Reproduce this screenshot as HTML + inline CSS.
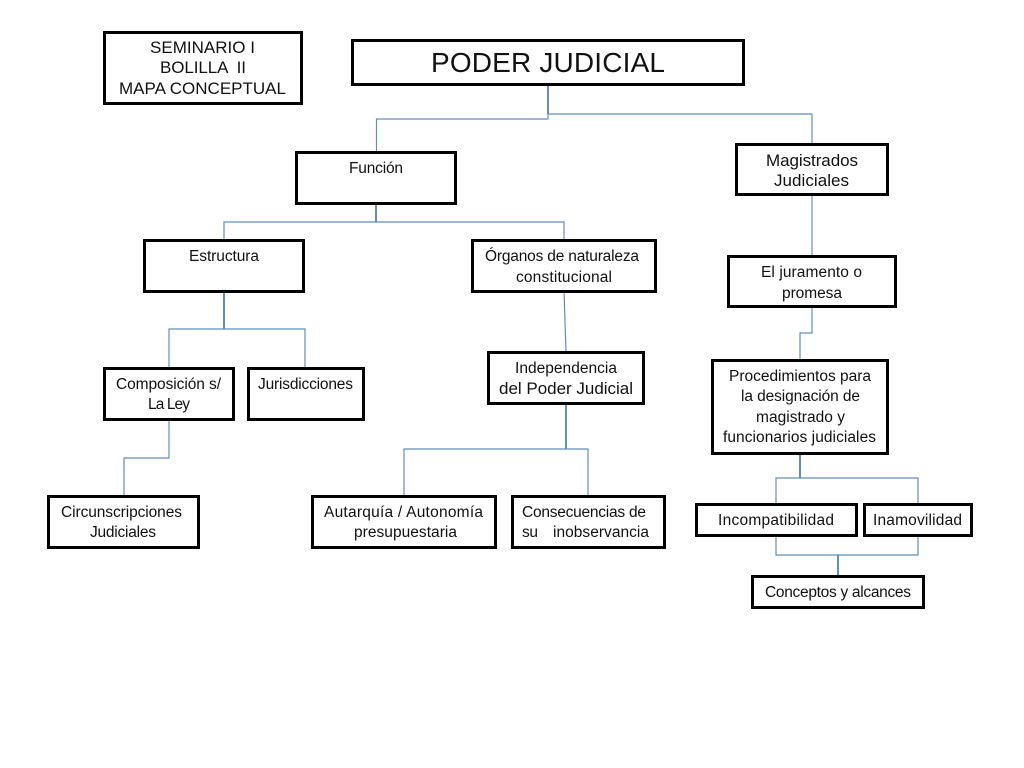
<!DOCTYPE html>
<html><head><meta charset="utf-8"><style>
html,body{margin:0;padding:0;background:#fff}
svg{display:block}
.b{fill:#fff;stroke:#000;stroke-width:3}
.l{fill:none;stroke:#5f8fbd;stroke-width:1.2}
.d{fill:none;stroke:#4f81bd;stroke-width:1.8}
text{font-family:"Liberation Sans",sans-serif;fill:#111;font-size:15.5px}
.a{font-size:17px}
</style></head><body>
<svg width="1024" height="768" viewBox="0 0 1024 768" xmlns="http://www.w3.org/2000/svg">
<path class="d" d="M548 85V114"/>
<path class="l" d="M548 114V119H376.500V152M548 114H812V144"/>
<path class="d" d="M376 204V222"/>
<path class="l" d="M224 240V222H564V240"/>
<path class="l" d="M812 195V256"/>
<path class="d" d="M224 291V329"/>
<path class="l" d="M169 368V329H305V368"/>
<path class="l" d="M564 291L566 352"/>
<path class="l" d="M812 307V333H800V360"/>
<path class="l" d="M169 419V458H124V496"/>
<path class="d" d="M566 403V449"/>
<path class="l" d="M404 496V449H588V496"/>
<path class="d" d="M800 453V478"/>
<path class="l" d="M776 504V478H918V504"/>
<path class="l" d="M776 535V555H918V535"/>
<path class="d" d="M838 555V576"/>

<rect class="b" x="104.500" y="32.500" width="197" height="71"/>
<rect class="b" x="352.500" y="40.500" width="391" height="44"/>
<rect class="b" x="296.500" y="152.500" width="159" height="51"/>
<rect class="b" x="736.500" y="144.500" width="151" height="50"/>
<rect class="b" x="144.500" y="240.500" width="159" height="51"/>
<rect class="b" x="472.500" y="240.500" width="183" height="51"/>
<rect class="b" x="728.500" y="256.500" width="167" height="50"/>
<rect class="b" x="104.500" y="368.500" width="129" height="51"/>
<rect class="b" x="248.500" y="368.500" width="115" height="51"/>
<rect class="b" x="488.500" y="352.500" width="155" height="51"/>
<rect class="b" x="712.500" y="360.500" width="175" height="93"/>
<rect class="b" x="48.500" y="496.500" width="150" height="51"/>
<rect class="b" x="312.500" y="496.500" width="183" height="51"/>
<rect class="b" x="512.500" y="496.500" width="152" height="51"/>
<rect class="b" x="696.500" y="504.500" width="160" height="31"/>
<rect class="b" x="864.500" y="504.500" width="107" height="31"/>
<rect class="b" x="752.500" y="576.500" width="171" height="31"/>

<text class="a" x="150" y="53" textLength="105">SEMINARIO I</text>
<text class="a" x="160" y="73" textLength="86" xml:space="preserve">BOLILLA  II</text>
<text class="a" x="119" y="94" textLength="167">MAPA CONCEPTUAL</text>
<text x="431" y="72" style="font-size:28px" textLength="234">PODER JUDICIAL</text>
<text x="349" y="173" textLength="54">Función</text>
<text class="a" x="766" y="166" textLength="92">Magistrados</text>
<text class="a" x="774" y="186" textLength="75">Judiciales</text>
<text x="189" y="261" textLength="70">Estructura</text>
<text x="485" y="261" textLength="154">Órganos de naturaleza</text>
<text x="516" y="282" textLength="96">constitucional</text>
<text x="761" y="277" textLength="101">El juramento o</text>
<text x="782" y="298" textLength="60">promesa</text>
<text x="116" y="389" textLength="105">Composición s/</text>
<text x="148" y="409" textLength="42">La Ley</text>
<text x="258" y="389" textLength="95">Jurisdicciones</text>
<text x="515" y="373" textLength="102">Independencia</text>
<text class="a" x="499" y="394" textLength="134">del Poder Judicial</text>
<text x="729" y="381" textLength="142">Procedimientos para</text>
<text x="741" y="401" textLength="119">la designación de</text>
<text x="756" y="422" textLength="89">magistrado y</text>
<text x="723" y="442" textLength="153">funcionarios judiciales</text>
<text x="61" y="517" textLength="121">Circunscripciones</text>
<text x="90" y="537" textLength="66">Judiciales</text>
<text x="324" y="517" textLength="159">Autarquía / Autonomía</text>
<text x="354" y="537" textLength="103">presupuestaria</text>
<text x="522" y="517" textLength="124">Consecuencias de</text>
<text x="522" y="537" textLength="16">su</text>
<text x="553" y="537" textLength="96">inobservancia</text>
<text x="718" y="525" textLength="116">Incompatibilidad</text>
<text x="873" y="525" textLength="89">Inamovilidad</text>
<text x="765" y="597" textLength="146">Conceptos y alcances</text>
</svg>
</body></html>
